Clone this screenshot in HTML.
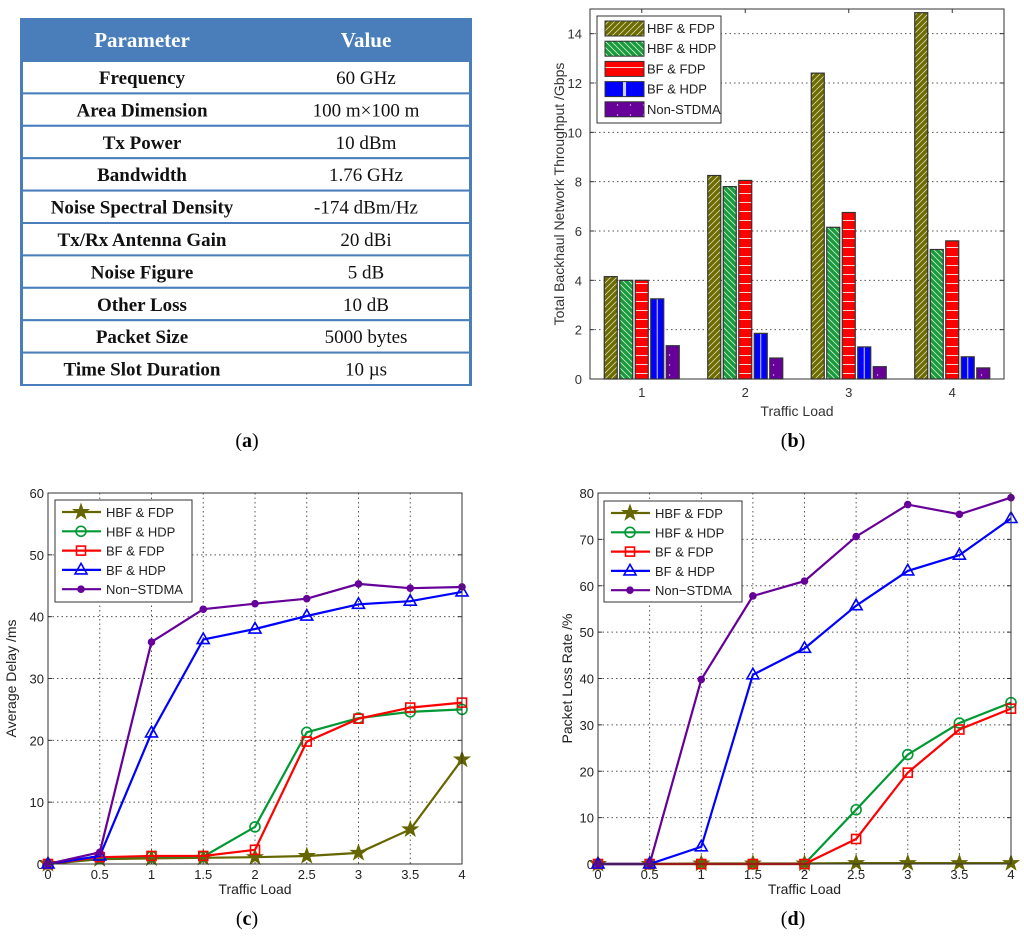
<!DOCTYPE html>
<html><head><meta charset="utf-8"><style>
body{margin:0;background:#fff;}
svg{display:block;font-family:"Liberation Sans",sans-serif;}
.tb{font-family:"Liberation Serif",serif;}
</style></head><body>
<svg id="fig" width="1024" height="947" viewBox="0 0 1024 947" xmlns="http://www.w3.org/2000/svg">
<defs>
<pattern id="pHF" width="6" height="6" patternUnits="userSpaceOnUse"><rect width="6" height="6" fill="#6b6b00"/><path d="M0,6 L6,0 M-1,1 L1,-1 M5,7 L7,5" stroke="#d8d8b0" stroke-width="0.8"/></pattern>
<pattern id="pHH" width="6" height="6" patternUnits="userSpaceOnUse"><rect width="6" height="6" fill="#1a9a3c"/><path d="M0,0 L6,6 M-1,5 L1,7 M5,-1 L7,1" stroke="#c8f0d0" stroke-width="0.8"/></pattern>
<pattern id="pBF" width="6" height="9" patternUnits="userSpaceOnUse"><rect width="6" height="9" fill="#ff0000"/><path d="M0,4.5 L6,4.5" stroke="#ffd0d0" stroke-width="1"/></pattern>
<pattern id="pBH" width="1" height="1" patternUnits="objectBoundingBox" patternContentUnits="objectBoundingBox"><rect width="1" height="1" fill="#0000ff"/><rect x="0.46" y="0" width="0.08" height="1" fill="#d0d0ff"/></pattern>
<pattern id="pNS" width="13" height="10" patternUnits="userSpaceOnUse"><rect width="13" height="10" fill="#660099"/><circle cx="6.5" cy="5" r="0.7" fill="#e0c0ff"/></pattern>
</defs>

<g id="tbl" class="tb">
<rect x="21" y="19" width="450" height="42" fill="#4a7ebb"/>
<text x="142" y="47" font-size="21" font-weight="bold" fill="#fff" text-anchor="middle">Parameter</text>
<text x="366" y="47" font-size="21" font-weight="bold" fill="#fff" text-anchor="middle">Value</text>
</g>
<text x="247" y="447" font-size="20" text-anchor="middle" class="tb">(<tspan font-weight="bold">a</tspan>)</text>
<text x="793" y="447" font-size="20" text-anchor="middle" class="tb">(<tspan font-weight="bold">b</tspan>)</text>
<text x="247" y="925" font-size="20" text-anchor="middle" class="tb">(<tspan font-weight="bold">c</tspan>)</text>
<text x="793" y="925" font-size="20" text-anchor="middle" class="tb">(<tspan font-weight="bold">d</tspan>)</text>
<g id="gb"></g>
<g id="gc"></g>
<g id="gd"></g>
</svg>
<script>
const tableParams=["Frequency","Area Dimension","Tx Power","Bandwidth","Noise Spectral Density","Tx/Rx Antenna Gain","Noise Figure","Other Loss","Packet Size","Time Slot Duration"];
const tableValues=["60 GHz","100 m\u00d7100 m","10 dBm","1.76 GHz","-174 dBm/Hz","20 dBi","5 dB","10 dB","5000 bytes","10 \u00b5s"];

const barCategories=[1,2,3,4];
const barSeriesNames=["HBF & FDP","HBF & HDP","BF & FDP","BF & HDP","Non-STDMA"];
const barHBF_FDP=[4.15,8.25,12.4,14.85];
const barHBF_HDP=[4.0,7.8,6.15,5.25];
const barBF_FDP=[4.0,8.05,6.75,5.6];
const barBF_HDP=[3.25,1.85,1.3,0.9];
const barNonSTDMA=[1.35,0.85,0.5,0.45];
const barYTicks=[0,2,4,6,8,10,12,14];

const lineX=[0,0.5,1,1.5,2,2.5,3,3.5,4];
const lineXTickLabels=["0","0.5","1","1.5","2","2.5","3","3.5","4"];
const delayHBF_FDP=[0,0.8,0.9,1.0,1.1,1.3,1.8,5.6,16.9];
const delayHBF_HDP=[0,1.0,1.2,1.2,6.0,21.3,23.6,24.6,25.0];
const delayBF_FDP=[0,1.1,1.3,1.3,2.3,19.8,23.5,25.3,26.1];
const delayBF_HDP=[0,1.3,21.2,36.3,38.0,40.1,42.0,42.5,44.0];
const delayNon=[0,1.9,35.9,41.2,42.1,42.9,45.3,44.6,44.8];
const delayYTicks=[0,10,20,30,40,50,60];
const lossHBF_FDP=[0,0,0.1,0.1,0.1,0.2,0.2,0.2,0.2];
const lossHBF_HDP=[0,0,0,0,0,11.7,23.6,30.4,34.8];
const lossBF_FDP=[0,0,0,0,0,5.4,19.7,29.0,33.5];
const lossBF_HDP=[0,0,3.7,40.8,46.5,55.7,63.2,66.6,74.5];
const lossNon=[0,0,39.8,57.8,61.0,70.6,77.5,75.4,79.0];
const lossYTicks=[0,10,20,30,40,50,60,70,80];

const NS="http://www.w3.org/2000/svg";
function mk(tag,attrs,parent){const e=document.createElementNS(NS,tag);for(const k in attrs)e.setAttribute(k,attrs[k]);parent.appendChild(e);return e;}
function txt(s,attrs,parent){const e=mk('text',attrs,parent);e.textContent=s;return e;}

const tbl=document.getElementById('tbl');
const rowH=32.4;
tableParams.forEach((p,i)=>{
  const y=61+i*rowH;
  const r=mk('rect',{x:22,y:y,width:448,height:rowH,fill:'#fff',stroke:'#4a7ebb','stroke-width':2},tbl);
  
  
  const a=txt(p,{x:142,y:y+23,'font-size':19,'font-weight':'bold','text-anchor':'middle',fill:'#111'},tbl);
  
  
  const b=txt(tableValues[i],{x:366,y:y+23,'font-size':19,'text-anchor':'middle',fill:'#111'},tbl);
  
  
});
mk('rect',{x:21,y:19,width:450,height:366,fill:'none',stroke:'#4a7ebb','stroke-width':2},tbl);

(function(){
const g=document.getElementById('gb');
const L=590,R=1004,T=9,B=379;
const xs=v=>L+(v-0.5)/4*(R-L);
const ys=v=>B-v/15*(B-T);
mk('rect',{x:L,y:T,width:R-L,height:B-T,fill:'#fff'},g);
barYTicks.forEach(t=>{
  if(t>0){const gl=mk('line',{x1:L,x2:R,y1:ys(t),y2:ys(t),stroke:'#555','stroke-dasharray':'1.5,3','stroke-width':1},g);
  
  }
  mk('line',{x1:L,x2:L+4,y1:ys(t),y2:ys(t),stroke:'#333'},g);
  mk('line',{x1:R,x2:R-4,y1:ys(t),y2:ys(t),stroke:'#333'},g);
  const l=txt(String(t),{x:L-8,y:ys(t)+5,'font-size':13,'text-anchor':'end',fill:'#333'},g);
  
  
});
const series=[barHBF_FDP,barHBF_HDP,barBF_FDP,barBF_HDP,barNonSTDMA];
const fills=['url(#pHF)','url(#pHH)','url(#pBF)','url(#pBH)','url(#pNS)'];
const step=15.5,bw=13;
barCategories.forEach((c,ci)=>{
  mk('line',{x1:xs(c),x2:xs(c),y1:B,y2:B-4,stroke:'#333'},g);
  mk('line',{x1:xs(c),x2:xs(c),y1:T,y2:T+4,stroke:'#333'},g);
  const l=txt(String(c),{x:xs(c),y:B+18,'font-size':13,'text-anchor':'middle',fill:'#333'},g);
  
  
  series.forEach((s,si)=>{
    const x=xs(c)+(si-2)*step-bw/2;
    const r=mk('rect',{x:x,y:ys(s[ci]),width:bw,height:B-ys(s[ci]),fill:fills[si],stroke:'#333','stroke-width':1.2},g);
    
    
  });
});
mk('rect',{x:L,y:T,width:R-L,height:B-T,fill:'none',stroke:'#333','stroke-width':1},g);
const xt=txt('Traffic Load',{x:(L+R)/2,y:416,'font-size':14,'text-anchor':'middle',fill:'#333'},g);


const yt=txt('Total Backhaul Network Throughput /Gbps',{x:0,y:0,'font-size':14,'text-anchor':'middle',fill:'#333',transform:`translate(564,${(T+B)/2}) rotate(-90)`},g);


const lg=mk('g',{},g);


mk('rect',{x:597,y:16,width:124,height:107,fill:'#fff',stroke:'#333'},lg);
barSeriesNames.forEach((n,i)=>{
  const y=21+i*20.2;
  mk('rect',{x:605,y:y,width:39,height:15,fill:fills[i],stroke:'#333'},lg);
  const t=txt(n,{x:647,y:y+12,'font-size':13,fill:'#222'},lg);
  
  
});
})();

const names=["HBF & FDP","HBF & HDP","BF & FDP","BF & HDP","Non\u2212STDMA"];
const colors=['#666600','#009933','#ff0000','#0000ff','#660099'];
const markers=['star','circle','square','triangle','dot'];
function marker(type,x,y,c,parent){
  let e;
  if(type==='star'){
    let pts=[];for(let k=0;k<10;k++){const r=k%2?3.2:8;const a=-Math.PI/2+k*Math.PI/5;pts.push((x+r*Math.cos(a)).toFixed(1)+','+(y+r*Math.sin(a)).toFixed(1));}
    e=mk('polygon',{points:pts.join(' '),fill:c,stroke:c},parent);
  }else if(type==='circle') e=mk('circle',{cx:x,cy:y,r:5,fill:'none',stroke:c,'stroke-width':1.6},parent);
  else if(type==='square') e=mk('rect',{x:x-4.5,y:y-4.5,width:9,height:9,fill:'none',stroke:c,'stroke-width':1.6},parent);
  else if(type==='triangle') e=mk('polygon',{points:`${x},${y-6.5} ${x-6},${y+4} ${x+6},${y+4}`,fill:'none',stroke:c,'stroke-width':1.6},parent);
  else e=mk('circle',{cx:x,cy:y,r:3.8,fill:c},parent);
  return e;
}
function lineChart(gid,L,R,T,B,ymax,yTicks,seriesArr,ytitle,ytx,leg){
  const g=document.getElementById(gid);
  const xs=v=>L+v/4*(R-L);
  const ys=v=>B-v/ymax*(B-T);
  mk('rect',{x:L,y:T,width:R-L,height:B-T,fill:'#fff'},g);
  yTicks.forEach(t=>{
    if(t>0&&t<ymax){const gl=mk('line',{x1:L,x2:R,y1:ys(t),y2:ys(t),stroke:'#555','stroke-dasharray':'1.5,3'},g);
    
    }
    mk('line',{x1:L,x2:L+4,y1:ys(t),y2:ys(t),stroke:'#333'},g);
    mk('line',{x1:R,x2:R-4,y1:ys(t),y2:ys(t),stroke:'#333'},g);
    const l=txt(String(t),{x:L-4,y:ys(t)+5,'font-size':13,'text-anchor':'end',fill:'#222'},g);
    
    
  });
  lineX.forEach((v,i)=>{
    if(v>0&&v<4){const gl=mk('line',{x1:xs(v),x2:xs(v),y1:T,y2:B,stroke:'#555','stroke-dasharray':'1.5,3'},g);
    
    }
    const l=txt(lineXTickLabels[i],{x:xs(v),y:B+15,'font-size':13,'text-anchor':'middle',fill:'#222'},g);
    
    
  });
  seriesArr.forEach((s,si)=>{
    const pl=mk('polyline',{points:s.map((v,i)=>xs(lineX[i]).toFixed(1)+','+ys(v).toFixed(1)).join(' '),fill:'none',stroke:colors[si],'stroke-width':2.2},g);
    
    
    s.forEach((v,i)=>{
      const m=marker(markers[si],xs(lineX[i]),ys(v),colors[si],g);
      
      
    });
  });
  mk('rect',{x:L,y:T,width:R-L,height:B-T,fill:'none',stroke:'#333'},g);
  const xt=txt('Traffic Load',{x:(L+R)/2,y:B+30,'font-size':14,'text-anchor':'middle',fill:'#222'},g);
  
  
  const yt=txt(ytitle,{x:0,y:0,'font-size':14,'text-anchor':'middle',fill:'#222',transform:`translate(${ytx},${(T+B)/2}) rotate(-90)`},g);
  
  
  const lg=mk('g',{},g);
  
  
  mk('rect',{x:leg[0],y:leg[1],width:leg[2],height:leg[3],fill:'#fff',stroke:'#333'},lg);
  names.forEach((n,i)=>{
    const y=leg[1]+12+i*19.3;
    mk('line',{x1:leg[0]+7,x2:leg[0]+46,y1:y,y2:y,stroke:colors[i],'stroke-width':2.2},lg);
    marker(markers[i],leg[0]+26,y,colors[i],lg);
    const t=txt(n,{x:leg[0]+51,y:y+5,'font-size':13,fill:'#222'},lg);
    
    
  });
}
lineChart('gc',48,462,493,864,60,delayYTicks,[delayHBF_FDP,delayHBF_HDP,delayBF_FDP,delayBF_HDP,delayNon],'Average Delay /ms',16,[55,500,137,102]);
lineChart('gd',598,1011,493,864,80,lossYTicks,[lossHBF_FDP,lossHBF_HDP,lossBF_FDP,lossBF_HDP,lossNon],'Packet Loss Rate /%',572,[604,501,138,101]);
</script>
</body></html>
